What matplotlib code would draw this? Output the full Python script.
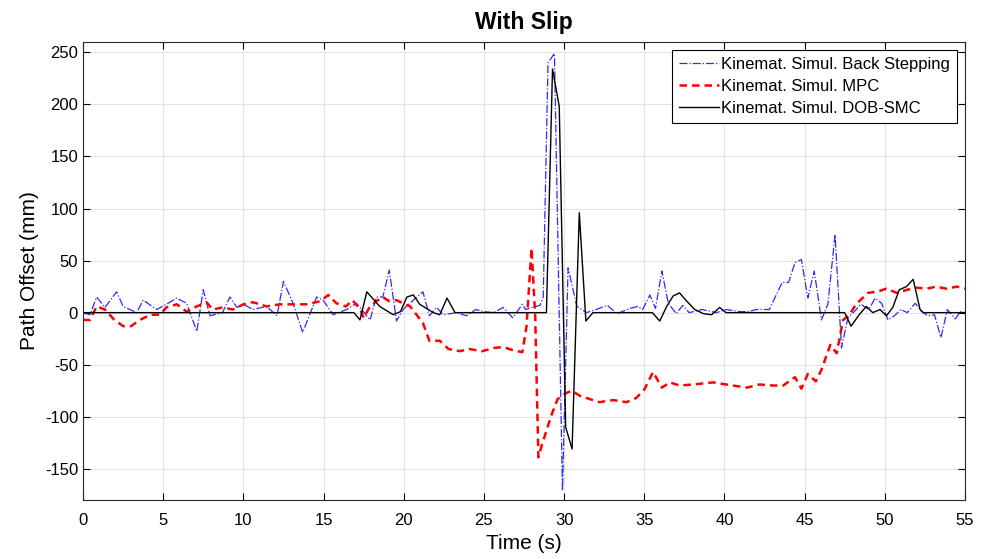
import matplotlib
matplotlib.use('Agg')
import matplotlib.pyplot as plt
import numpy as np

plt.rcParams['font.family'] = ['Liberation Sans', 'DejaVu Sans']
plt.rcParams['axes.unicode_minus'] = False

# Kinemat. Simul. Back Stepping
t_bs = [0.0, 0.44, 0.85, 1.37, 2.1, 2.5, 3.35, 3.75, 4.6, 5.2, 5.84, 6.46, 7.1, 7.5, 7.92,
        8.7, 9.16, 9.6, 10.0, 10.6, 11.45, 12.1, 12.5, 13.1, 13.7, 14.57, 14.97, 15.6,
        16.44, 17.06, 17.9, 18.3, 18.7, 19.1, 19.55, 19.96, 20.6, 21.2, 21.6, 22.05,
        22.45, 23.3, 23.9, 24.5, 25.0, 25.6, 26.2, 26.8, 27.4, 27.6, 28.0, 28.5, 28.7,
        29.0, 29.4, 29.9, 30.25, 30.8, 31.4, 32.0, 32.7, 33.3, 34.1, 34.6, 34.9, 35.35,
        35.7, 36.1, 36.5, 37.0, 37.4, 37.8, 38.6, 39.5, 40.1, 40.96, 41.5, 42.0, 42.8,
        43.6, 44.0, 44.4, 44.8, 45.2, 45.6, 46.05, 46.45, 46.9, 47.3, 47.7, 48.1, 48.5,
        49.0, 49.4, 49.8, 50.2, 50.6, 51.0, 51.4, 51.9, 52.3, 52.7, 53.1, 53.5, 53.9,
        54.4, 54.7, 55.0]
v_bs = [0, -2, 15, 5, 20, 6, 0, 12, 3, 8, 14, 9, -18, 22, -3,
        0, 15, 5, 8, 3, 6, -3, 30, 9, -19, 15, 12, -2,
        3, 9, -7, 15, 15, 41, -8, 3, 12, 20, -3, 5,
        -2, 0, -3, 3, 1, 0, 5, -5, 8, 3, 5, 7, 15,
        240, 249, -171, 43, 6, 0, 3, 7, -1, 4, 6, 3, 17,
        4, 40, 9, -1, 7, 0, 3, 0, 3, 1, 1, 3, 3,
        29, 29, 48, 51, 14, 40, -7, 8, 75, -34, -5, 1, 8,
        3, 14, 9, -7, -3, 3, 0, 9, 1, -3, -2, -24, 3,
        -6, 1, 0]

# Kinemat. Simul. MPC
t_mpc = [0.0, 0.44, 0.85, 1.37, 1.9, 2.5, 3.0, 3.55, 4.2, 4.8, 5.2, 5.85, 6.46, 7.1, 7.7,
         8.1, 8.7, 9.35, 10.0, 10.6, 11.45, 12.3, 13.1, 13.95, 14.8, 15.3, 15.8, 16.4,
         16.8, 17.3, 17.5, 17.9, 18.3, 18.7, 19.1, 19.55, 19.95, 20.4, 20.8, 21.2, 21.6,
         22.25, 22.8, 23.5, 24.1, 24.9, 25.6, 26.2, 26.8, 27.4, 27.66, 27.97, 28.2, 28.4,
         28.6, 29.2, 29.6, 30.05, 30.47, 31.0, 31.6, 32.2, 33.06, 33.9, 34.5, 35.0, 35.55,
         36.1, 36.6, 37.2, 38.05, 39.3, 40.1, 41.4, 42.2, 43.0, 43.66, 44.4, 44.8, 45.2,
         45.7, 46.05, 46.6, 47.0, 47.4, 47.8, 48.2, 48.95, 49.5, 50.1, 50.75, 51.4, 52.0,
         52.6, 53.2, 53.85, 54.5, 55.0]
v_mpc = [-7, -7, 6, 3, -6, -13, -13, -7, -2, -2, 5, 8, 1, 6, 10,
         3, 5, 3, 8, 10, 6, 8, 8, 8, 11, 17, 9, 6,
         12, 3, -5, 6, 11, 15, 11, 12, 9, 6, -2, -10, -27,
         -27, -35, -37, -35, -37, -34, -33, -36, -38, -13, 62, -3, -139,
         -128, -99, -83, -78, -75, -80, -83, -86, -84, -86, -82, -74, -57,
         -72, -67, -70, -69, -67, -69, -72, -69, -70, -70, -62, -73, -59,
         -66, -55, -31, -39, -7, -2, 8, 19, 20, 23, 19, 22, 24,
         23, 25, 23, 25, 23]

# Kinemat. Simul. DOB-SMC
t_smc = [0.0, 16.9, 17.27, 17.7, 18.5, 19.35, 19.8, 20.2, 20.6, 21.0, 21.85, 22.25, 22.7,
         23.2, 28.9, 29.28, 29.7, 30.1, 30.5, 30.95, 31.36, 31.8, 35.5, 35.97, 36.4, 36.8,
         37.2, 37.65, 38.15, 38.7, 39.2, 39.7, 40.1, 47.5, 47.9, 48.4, 48.85, 49.25, 49.7,
         50.1, 50.5, 50.9, 51.35, 51.77, 52.2, 52.4, 55.0]
v_smc = [0, 0, -7, 20, 6, -2, 1, 15, 17, 8, 0, -2, 14,
         0, 0, 234, 198, -110, -131, 96, -8, 0, 0, -8, 6, 16,
         19, 11, 3, -1, -2, 5, 0, 0, -13, -2, 6, 0, 3,
         -3, 5, 22, 25, 32, 3, 0, 0]

fig = plt.figure(figsize=(9.89, 5.59), dpi=100)
ax = fig.add_axes([0.0839, 0.1055, 0.8918, 0.8194])

ax.plot(t_bs, v_bs, color='#2b2bff', linestyle='-.', linewidth=0.9,
        label='Kinemat. Simul. Back Stepping')
ax.plot(t_mpc, v_mpc, color='#ff0000', linestyle=(0, (3, 2)), linewidth=1.8,
        label='Kinemat. Simul. MPC')
ax.plot(t_smc, v_smc, color='black', linestyle='-', linewidth=1.0,
        label='Kinemat. Simul. DOB-SMC')

ax.set_xlim(0, 55)
ax.set_ylim(-180, 260)
ax.set_xticks(np.arange(0, 56, 5))
ax.set_yticks(np.arange(-150, 251, 50))
ax.grid(True, color='#e3e3e3', linewidth=0.8)
ax.set_axisbelow(True)
ax.tick_params(direction='in', top=True, right=True, labelsize=12, length=5)
ax.tick_params(axis='x', pad=9)
for s in ax.spines.values():
    s.set_color('#262626')
    s.set_linewidth(0.8)

ax.set_xlabel('Time (s)', fontsize=15, labelpad=5)
ax.set_ylabel('Path Offset (mm)', fontsize=15, labelpad=4)
ax.set_title('With Slip', fontsize=16.5, fontweight='bold', pad=9)

leg = ax.legend(loc='upper right', fontsize=12, fancybox=False, framealpha=1,
                edgecolor='black', handlelength=2.4, handletextpad=0.15,
                borderaxespad=0.5, labelspacing=0.42, borderpad=0.4)
leg.get_frame().set_linewidth(0.8)

fig.savefig('out.png', dpi=100)
